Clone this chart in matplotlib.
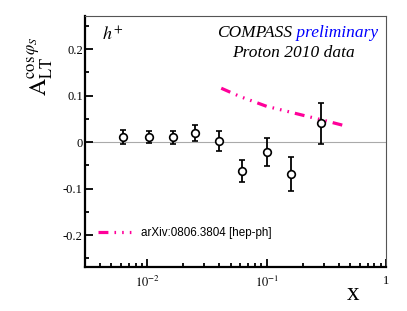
import matplotlib
import numpy as np

matplotlib.use("Agg")
import matplotlib.pyplot as plt
from matplotlib.ticker import FixedLocator, FixedFormatter, LogLocator, NullFormatter

# data
x_bins = [0.0062, 0.0104, 0.0163, 0.0253, 0.0395, 0.0619, 0.1007, 0.160, 0.283]
asym = [0.012, 0.011, 0.011, 0.019, 0.003, -0.062, -0.021, -0.068, 0.041]
asym_err = [0.015, 0.013, 0.014, 0.017, 0.021, 0.024, 0.030, 0.037, 0.044]

theory_x = [0.0416, 0.06, 0.1, 0.15, 0.2, 0.3, 0.48]
theory_y = [0.116, 0.098, 0.077, 0.066, 0.058, 0.047, 0.0335]

ytick_vals = [-0.2, -0.1, 0.0, 0.1, 0.2]
ytick_labels = ["-0.2", "-0.1", "0", "0.1", "0.2"]
xtick_vals = [0.01, 0.1, 1.0]
xtick_labels = [r"$10^{-2}$", r"$10^{-1}$", "1"]

THEORY_COLOR = "#ff0099"

plt.rcParams.update({
    "font.family": ["Liberation Serif", "DejaVu Serif"],
    "mathtext.fontset": "stix",
})

fig = plt.figure(figsize=(4.07, 3.11), dpi=100)
ax = fig.add_axes([0.2088, 0.1424, 0.7396, 0.8071])

ax.axhline(0, color="#aaaaaa", linewidth=0.8, zorder=1)

(th_line,) = ax.plot(
    theory_x,
    theory_y,
    color=THEORY_COLOR,
    linewidth=2.3,
    dashes=(3.1, 1.9, 0.5, 1.9, 0.5, 1.9, 0.5, 1.9),
    dash_capstyle="butt",
    label="arXiv:0806.3804 [hep-ph]",
    zorder=2,
)

ax.errorbar(
    x_bins,
    asym,
    yerr=asym_err,
    fmt="o",
    color="black",
    markerfacecolor="white",
    markeredgecolor="black",
    markersize=5.5,
    markeredgewidth=1.2,
    elinewidth=1.3,
    capsize=2.2,
    capthick=1.3,
    zorder=3,
)

ax.set_xscale("log")
ax.set_xlim(0.003, 1.0)
ax.set_ylim(-0.268, 0.272)

ax.xaxis.set_major_locator(FixedLocator(xtick_vals))
ax.xaxis.set_major_formatter(FixedFormatter(xtick_labels))
ax.xaxis.set_minor_locator(LogLocator(base=10, subs=np.arange(2, 10)))
ax.xaxis.set_minor_formatter(NullFormatter())

ax.yaxis.set_major_locator(FixedLocator(ytick_vals))
ax.yaxis.set_major_formatter(FixedFormatter(ytick_labels))
ax.yaxis.set_minor_locator(FixedLocator([-0.25, -0.15, -0.05, 0.05, 0.15, 0.25]))

ax.tick_params(which="both", direction="in", top=False, right=False,
               labelsize=9, width=1.3)
ax.tick_params(which="major", length=6)
ax.tick_params(which="minor", length=3.2)
ax.tick_params(axis="y", pad=1.5)
ax.tick_params(axis="x", pad=6)

for side in ("left", "bottom"):
    ax.spines[side].set_linewidth(1.6)
for side in ("top", "right"):
    ax.spines[side].set_linewidth(0.8)
    ax.spines[side].set_color("#555555")

ax.set_xlabel("x", fontsize=18)
ax.xaxis.set_label_coords(0.89, -0.065)
ax.set_ylabel(r"$\mathrm{A}_{\mathrm{LT}}^{\cos\varphi_{S}}$", fontsize=17)
ax.yaxis.set_label_coords(-0.10, 0.80)

ax.text(0.055, 0.903, r"$h^{+}$", transform=ax.transAxes, fontsize=13,
        ha="left", va="baseline")
t1 = ax.text(0.4385, 0.915, "COMPASS", transform=ax.transAxes, fontsize=12.5,
             style="italic", ha="left", va="baseline")
ax.annotate(" preliminary", xy=(1, 0), xycoords=t1, fontsize=12.5,
            style="italic", color="blue", ha="left", va="bottom")
ax.text(0.488, 0.834, "Proton 2010 data", transform=ax.transAxes, fontsize=12.5,
        style="italic", ha="left", va="baseline")

ax.legend(
    handles=[th_line],
    loc="center left",
    bbox_to_anchor=(0.043, 0.134),
    frameon=False,
    borderpad=0,
    borderaxespad=0,
    handlelength=2.9,
    handletextpad=0.8,
    prop={"family": ["Liberation Sans", "DejaVu Sans"], "size": 8.4},
)

fig.savefig("out.png", dpi=100)
